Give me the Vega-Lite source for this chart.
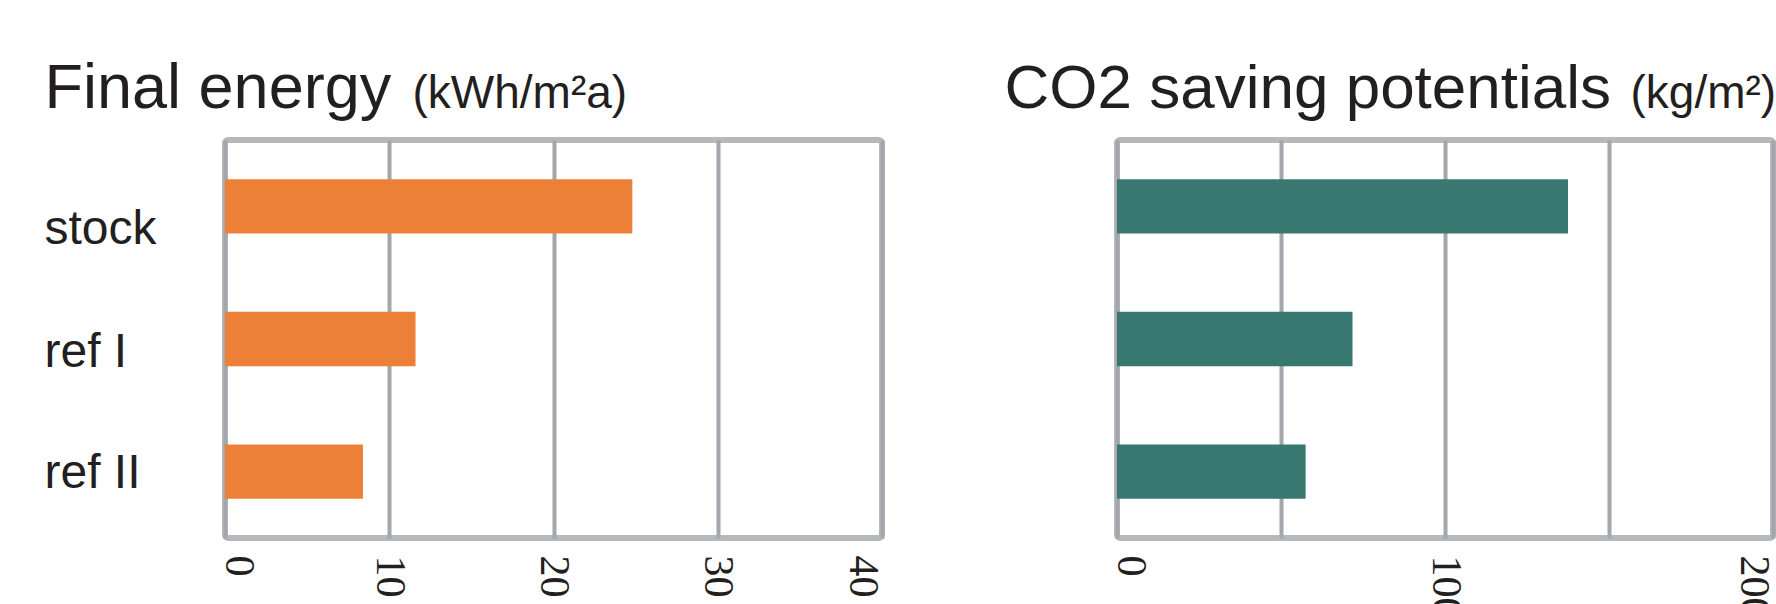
{
  "$schema": "https://vega.github.io/schema/vega-lite/v6.json",
  "background": "white",
  "padding": {"left": 41, "top": 54, "right": 0, "bottom": 0},
  "spacing": 115,
  "config": {
    "view": {"stroke": "#b6b9bb", "strokeWidth": 6, "cornerRadius": 3},
    "font": "Liberation Sans",
    "axisX": {
      "grid": true, "gridColor": "#a3a6aa", "gridWidth": 4, "gridOpacity": 1,
      "domain": false, "ticks": false,
      "labelAngle": 90, "labelAlign": "left",
      "labelPadding": 17, "labelFontSize": 42, "labelFont": "Liberation Sans Narrow",
      "labelColor": "#231f20", "labelFlush": false, "labelOverlap": false, "labelBound": false,
      "titleAngle": 0, "titleAlign": "left", "titleBaseline": "alphabetic",
      "titleFontSize": 63, "titleFontWeight": "normal", "titleColor": "#231f20",
      "titleY": -431
    },
    "axisY": {
      "grid": false, "domain": false, "ticks": false,
      "titleAngle": 0, "titleAlign": "left", "titleBaseline": "alphabetic",
      "titleFontSize": 46, "titleFontWeight": "normal", "titleColor": "#231f20",
      "titleY": -33,
      "labelColor": "#231f20"
    }
  },
  "hconcat": [
    {
      "width": 657,
      "height": 398,
      "data": {"values": [
        {"case": "stock", "value": 24.8},
        {"case": "ref I", "value": 11.6},
        {"case": "ref II", "value": 8.4}
      ]},
      "mark": {"type": "bar", "color": "#ec8036"},
      "encoding": {
        "y": {
          "field": "case", "type": "nominal", "sort": ["stock", "ref I", "ref II"],
          "scale": {"paddingInner": 0.59, "paddingOuter": 0.295},
          "axis": {
            "title": "(kWh/m²a)", "titleX": 187,
            "labelAlign": "left", "labelPadding": 181, "labelBaseline": "alphabetic",
            "labelFontSize": 48,
            "labelOffset": {"condition": [{"test": "datum.value === 'stock'", "value": 38}, {"test": "datum.value === 'ref I'", "value": 28}], "value": 16}
          }
        },
        "x": {
          "field": "value", "type": "quantitative",
          "scale": {"domain": [0, 40], "nice": false},
          "axis": {
            "values": [0, 10, 20, 30, 40], "title": "Final energy", "titleX": -181,
            "labelBaseline": {"condition": [{"test": "datum.value === 0", "value": "alphabetic"}, {"test": "datum.value === 40", "value": "top"}], "value": "middle"}
          }
        }
      }
    },
    {
      "width": 656,
      "height": 398,
      "data": {"values": [
        {"case": "stock", "value": 137.5},
        {"case": "ref I", "value": 71.8},
        {"case": "ref II", "value": 57.5}
      ]},
      "mark": {"type": "bar", "color": "#387870"},
      "encoding": {
        "y": {
          "field": "case", "type": "nominal", "sort": ["stock", "ref I", "ref II"],
          "scale": {"paddingInner": 0.59, "paddingOuter": 0.295},
          "axis": {"title": "(kg/m²)", "titleX": 513, "labels": false}
        },
        "x": {
          "field": "value", "type": "quantitative",
          "scale": {"domain": [0, 200], "nice": false},
          "axis": {
            "values": [0, 50, 100, 150, 200], "labelExpr": "datum.value % 100 === 0 ? datum.label : ''",
            "title": "CO2 saving potentials", "titleX": -113, "titleFontSize": 62,
            "labelBaseline": {"condition": [{"test": "datum.value === 0", "value": "alphabetic"}, {"test": "datum.value === 200", "value": "top"}], "value": "middle"}
          }
        }
      }
    }
  ]
}
